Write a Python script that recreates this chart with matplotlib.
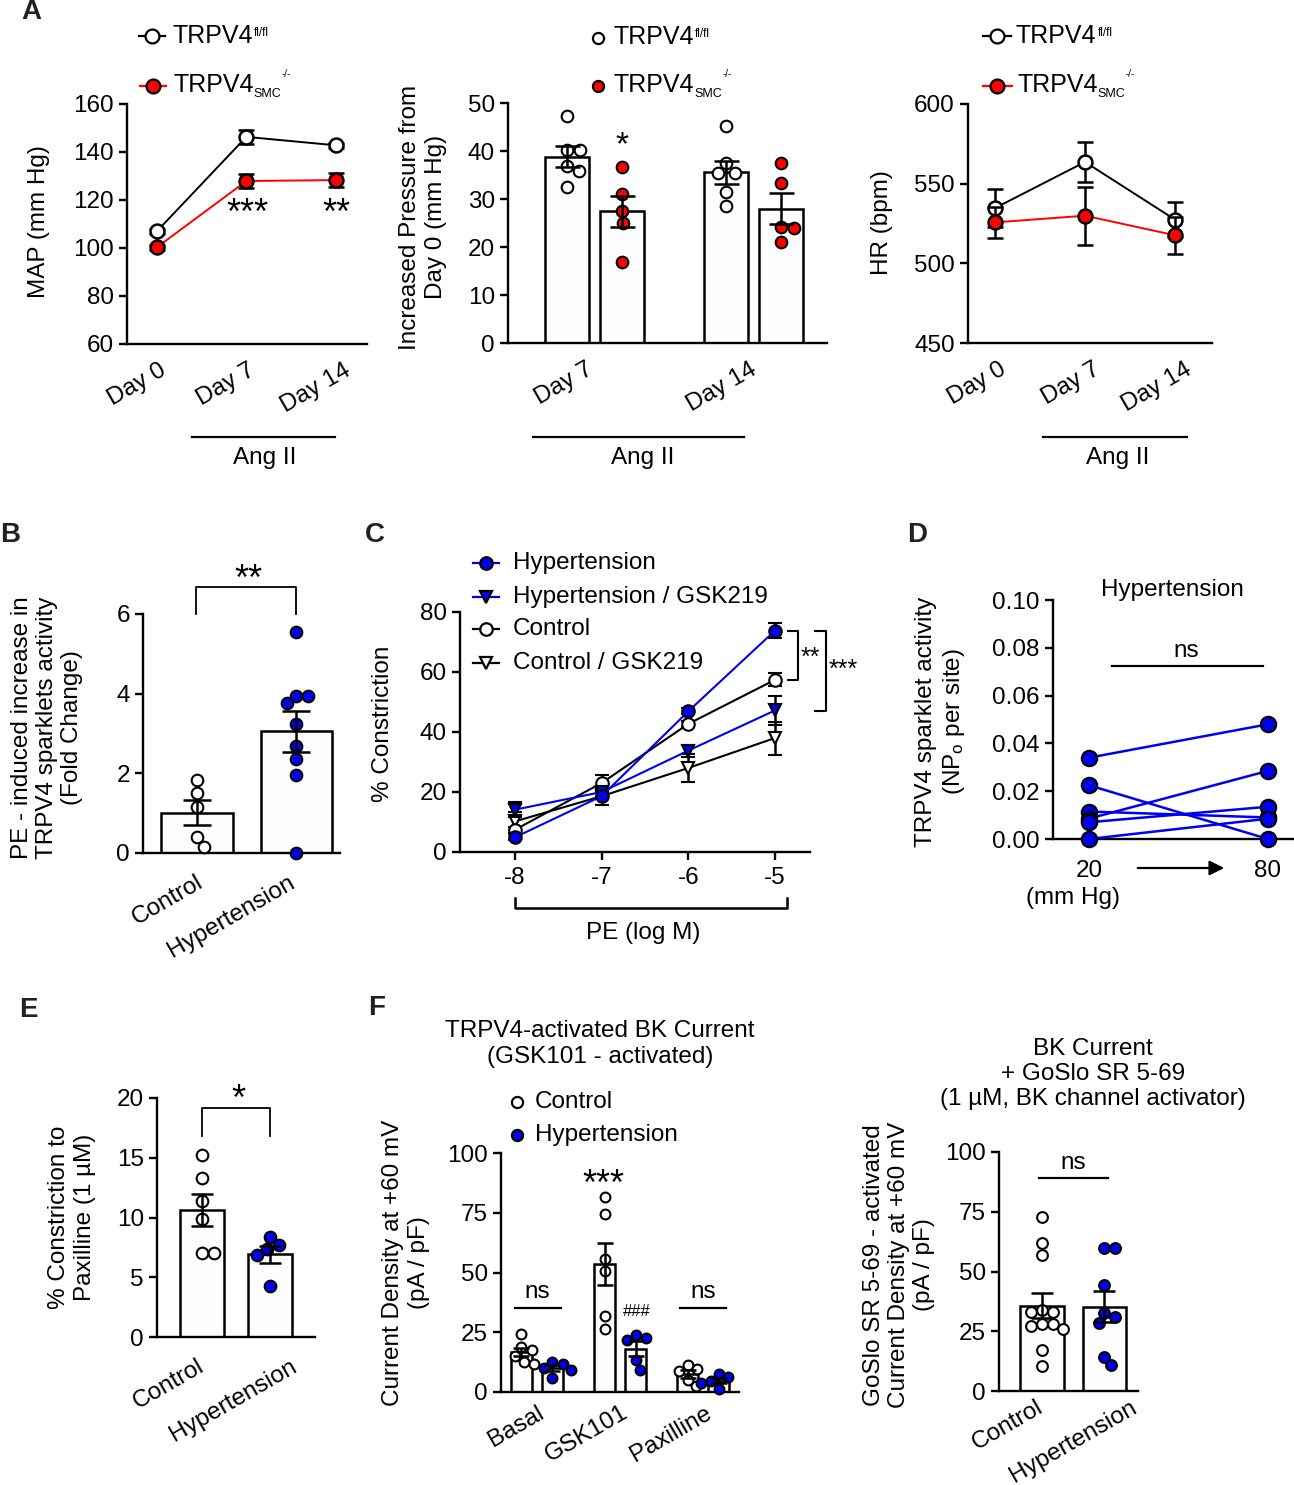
import matplotlib
matplotlib.use("Agg")
from matplotlib import pyplot as plt
from matplotlib.lines import Line2D
import matplotlib.transforms as mtransforms
import numpy as np

plt.rcParams['font.family'] = ['Liberation Sans', 'DejaVu Sans']
plt.rcParams['mathtext.fontset'] = 'custom'
plt.rcParams['mathtext.rm'] = 'Liberation Sans'
plt.rcParams['mathtext.it'] = 'Liberation Sans:italic'
plt.rcParams['axes.linewidth'] = 1.7

W, H = 1294, 1485
BLUE = '#0000f0'
RED = '#ff0000'
FS = 17.5

# ---------------- data ----------------
# A: mean arterial pressure
days = ['Day 0', 'Day 7', 'Day 14']
map_fl = [107.0, 146.3, 142.8]
map_fl_sem = [1.0, 3.0, 1.0]
map_ko = [100.3, 127.9, 128.3]
map_ko_sem = [1.0, 3.0, 3.0]

# A: increased pressure from day 0
ang_days = ['Day 7', 'Day 14']
dp_fl_pts = [[47.2, 40.3, 40.3, 36.9, 35.8, 32.6], [45.3, 37.5, 35.4, 35.4, 31.5, 28.5]]
dp_fl_sem = [2.1, 2.4]
dp_ko_pts = [[36.6, 31.0, 27.6, 24.9, 16.9], [37.6, 33.4, 24.2, 23.9, 21.0]]
dp_ko_sem = [3.3, 3.25]

# A: heart rate
hr_fl = [534.7, 563.6, 527.4]
hr_fl_sem = [12.0, 12.8, 11.0]
hr_ko = [525.7, 529.9, 517.6]
hr_ko_sem = [9.8, 18.3, 11.7]

# B
groups = ['Control', 'Hypertension']
b_ctrl = [1.83, 1.51, 1.16, 0.40, 0.15]
b_ht = [5.56, 3.95, 3.95, 3.77, 3.23, 2.68, 2.35, 1.97, 0.0]
b_sem = [0.31, 0.52]

# C
pe_logm = [-8, -7, -6, -5]
c_ht = [4.9, 18.6, 46.9, 73.8]
c_ht_sem = [1.0, 1.0, 1.0, 2.4]
c_ht_gsk = [14.1, 20.0, 33.8, 47.2]
c_ht_gsk_sem = [2.5, 1.5, 2.0, 4.7]
c_ctrl = [7.4, 23.0, 42.7, 57.4]
c_ctrl_sem = [1.0, 2.8, 1.0, 2.2]
c_ctrl_gsk = [10.2, 18.6, 28.0, 38.0]
c_ctrl_gsk_sem = [3.0, 3.0, 4.6, 5.5]

# D
d_press = ['20', '80']
d_20 = [0.034, 0.0225, 0.0115, 0.0085, 0.007, 0.0]
d_80 = [0.048, 0.0, 0.009, 0.0285, 0.0135, 0.0085]

# E
e_ctrl = [15.2, 13.3, 11.4, 9.9, 7.0, 7.0]
e_ht = [8.4, 7.7, 7.4, 6.9, 4.25]
e_sem = [1.35, 0.7]

# F (left)
f_conds = ['Basal', 'GSK101', 'Paxilline']
f_ctrl = [[24.3, 18.8, 17.7, 15.2, 12.6, 11.9], [81.6, 74.6, 55.6, 50.8, 31.9, 26.4],
          [11.4, 9.8, 8.6, 4.9, 2.4]]
f_ht = [[12.6, 11.9, 10.0, 9.3, 5.9], [24.0, 22.6, 21.9, 13.2, 9.1], [7.7, 6.3, 4.5, 3.8, 1.4]]
f_ctrl_sem = [1.8, 8.8, 1.7]
f_ht_sem = [1.2, 3.0, 1.1]

# F (right)
g_ctrl = [72.8, 61.9, 56.7, 34.0, 33.0, 33.0, 28.0, 28.0, 27.0, 26.0, 17.2, 10.6]
g_ht = [59.8, 59.8, 44.4, 32.5, 31.1, 28.4, 14.4, 10.9]
g_sem = [5.3, 6.5]

fig = plt.figure(figsize=(W / 100, H / 100), dpi=100)
fig.patch.set_facecolor('white')


def add_ax(l, t, r, b):
    ax = fig.add_axes([l / W, 1 - b / H, (r - l) / W, (b - t) / H])
    ax.spines[['top', 'right']].set_visible(False)
    ax.tick_params(labelsize=FS, width=1.7, length=6, direction='out')
    ax.tick_params(axis='x', length=0, pad=11)
    ax.patch.set_alpha(0)
    return ax


def ftext(x, y, s, **kw):
    kw.setdefault('fontsize', FS)
    kw.setdefault('ha', 'center')
    kw.setdefault('va', 'center')
    return fig.text(x / W, 1 - y / H, s, **kw)


def fline(xs, ys, lw=1.6, color='black'):
    fig.add_artist(Line2D([x / W for x in xs], [1 - y / H for y in ys],
                          transform=fig.transFigure, color=color, lw=lw))


def fmarker(x, y, face, marker='o', ms=10):
    fig.add_artist(Line2D([x / W], [1 - y / H], transform=fig.transFigure, ls='none',
                          marker=marker, ms=ms, mfc=face, mec='black', mew=1.6))


def rot_labels(ax, ticks, labels, dxs, pad=11, rot=30):
    # pad has to be set before the label shifts, tick_params rebuilds the transforms
    ax.tick_params(axis='x', pad=pad)
    ax.set_xticks(ticks, labels, rotation=rot, ha='center', va='top')
    for lab, dx in zip(ax.get_xticklabels(), dxs):
        lab.set_transform(lab.get_transform() +
                          mtransforms.ScaledTranslation(dx / 100, 0, fig.dpi_scale_trans))


def swarm_x(ax, xc, vals, d):
    # simple beeswarm in pixel space
    to = ax.transData
    x0 = to.transform((xc, 0))[0]
    placed, xs = [], []
    for v in vals:
        y = to.transform((xc, v))[1]
        cands = [0.0]
        for px, py in placed:
            dy = y - py
            if abs(dy) < d:
                dx = np.sqrt(d * d - dy * dy)
                cands += [px + dx, px - dx]
        cands.sort(key=abs)
        c = cands[0]
        for c in cands:
            if all((c - px) ** 2 + (y - py) ** 2 >= d * d - 1e-6 for px, py in placed):
                break
        placed.append((c, y))
        xs.append(to.inverted().transform((x0 + c, y))[0])
    return xs


def bar_with_points(ax, x, pts, sem, width, face, d=12, s=70, capsize=9):
    m = np.mean(pts)
    ax.bar(x, m, width=width, color='#fdfdff', edgecolor='black', lw=1.8, zorder=1)
    xs = swarm_x(ax, x, pts, d)
    ax.scatter(xs, pts, s=s, facecolor=face, edgecolor='black', lw=1.5, zorder=3, clip_on=False)
    ax.errorbar(x, m, yerr=sem, color='black', elinewidth=1.8, capsize=capsize, capthick=1.8, zorder=4)


def trpv4(x, y, kind):
    t = ftext(x, y, 'TRPV4', ha='left', fontsize=18)
    r = fig.canvas.get_renderer()
    bb = t.get_window_extent(r)
    if kind == 'fl':
        fig.text((bb.x1 + 1) / W, (bb.y1 - 3) / H, 'fl/fl', fontsize=8.5, ha='left', va='top')
    else:
        s = fig.text(bb.x1 / W, (bb.y0 - 3) / H, 'SMC', fontsize=9, ha='left', va='bottom')
        bs = s.get_window_extent(r)
        fig.text(bs.x1 / W, (bb.y1 + 4) / H, '-/-', fontsize=7, ha='left', va='top')


line_kw = dict(lw=1.4, ms=10, mew=1.8, ecolor='black', elinewidth=1.8, capthick=1.8)

# ---------------- A1: MAP ----------------
ax = add_ax(127, 104, 367, 344)
x = np.arange(len(days))
ax.set_xlim(-0.335, 2.35)
ax.set_ylim(60, 160)
ax.errorbar(x, map_fl, yerr=map_fl_sem, color='black', marker='o', mfc='white', mec='black',
            capsize=6, zorder=3, **line_kw)
ax.errorbar(x, map_ko, yerr=map_ko_sem, color=RED, marker='o', mfc=RED, mec='black',
            capsize=6, zorder=4, **line_kw)
ax.set_yticks(range(60, 161, 20))
rot_labels(ax, x, days, [-20, -20, -20])
fline([192, 335], [437, 437])
ftext(265, 458, 'Ang II')
ftext(247, 214, '***', fontsize=26)
ftext(336, 214, '**', fontsize=26)
fline([139, 165], [36, 36])
fmarker(152, 36, 'white')
trpv4(172, 36, 'fl')
fline([140, 166], [86, 86], color=RED)
fmarker(153, 86, RED)
trpv4(173, 85, 'ko')
ftext(39, 222, 'MAP (mm Hg)', rotation=90)

# ---------------- A2: increased pressure ----------------
ax = add_ax(508, 103, 827, 343)
ax.set_xlim(-1.07, 4.73)
ax.set_ylim(0, 50)
pos_fl = [0, 2.9]
pos_ko = [1, 3.9]
for i in range(len(ang_days)):
    bar_with_points(ax, pos_fl[i], dp_fl_pts[i], dp_fl_sem[i], 0.8, 'white', d=13)
    bar_with_points(ax, pos_ko[i], dp_ko_pts[i], dp_ko_sem[i], 0.8, RED, d=13)
ax.set_yticks(range(0, 51, 10))
rot_labels(ax, [0.5, 3.4], ang_days, [-30, -32])
ftext(622, 146, '*', fontsize=24)
fline([533, 744], [437, 437])
ftext(643, 458, 'Ang II')
fmarker(598, 38, 'white', ms=8)
trpv4(613, 37, 'fl')
fmarker(598, 86, RED, ms=8)
trpv4(614, 85, 'ko')
ftext(423, 217, 'Increased Pressure from\nDay 0 (mm Hg)', rotation=90)

# ---------------- A3: heart rate ----------------
ax = add_ax(968, 104, 1212, 343)
ax.set_xlim(-0.3, 2.41)
ax.set_ylim(450, 600)
ax.errorbar(x, hr_fl, yerr=hr_fl_sem, color='black', marker='o', mfc='white', mec='black',
            capsize=6, zorder=3, **line_kw)
ax.errorbar(x, hr_ko, yerr=hr_ko_sem, color=RED, marker='o', mfc=RED, mec='black',
            capsize=6, zorder=4, **line_kw)
ax.set_yticks(range(450, 601, 50))
rot_labels(ax, x, days, [-18, -14, -18])
fline([1043, 1187], [437, 437])
ftext(1118, 458, 'Ang II')
fline([983, 1011], [36, 36])
fmarker(997, 36, 'white')
trpv4(1016, 36, 'fl')
fline([983, 1012], [86, 86], color=RED)
fmarker(997, 86, RED)
trpv4(1017, 85, 'ko')
ftext(882, 223, 'HR (bpm)', rotation=90)

# ---------------- B ----------------
ax = add_ax(143, 614, 340, 853)
ax.set_xlim(-0.545, 1.44)
ax.set_ylim(0, 6)
bar_with_points(ax, 0, b_ctrl, b_sem[0], 0.72, 'white', d=12, capsize=10)
bar_with_points(ax, 1, b_ht, b_sem[1], 0.72, BLUE, d=12, capsize=10)
ax.set_yticks(range(0, 7, 2))
rot_labels(ax, [0, 1], groups, [-30, -65], pad=13)
fline([196, 196, 296, 296], [614, 587, 587, 614], lw=1.3)
ftext(248, 580, '**', fontsize=26)
ftext(47, 728, 'PE - induced increase in\nTRPV4 sparklets activity\n(Fold Change)', rotation=90)

# ---------------- C ----------------
ax = add_ax(460, 612, 810, 852)
ax.set_xlim(-8.634, -4.596)
ax.set_ylim(0, 80)
ekw = dict(lw=1.5, ms=9, mew=1.5, ecolor='black', elinewidth=1.8, capthick=1.8, capsize=5, clip_on=False)
ax.errorbar(pe_logm, c_ctrl_gsk, yerr=c_ctrl_gsk_sem, color='black', marker='v', mfc='white',
            mec='black', zorder=3, **ekw)
ax.errorbar(pe_logm, c_ctrl, yerr=c_ctrl_sem, color='black', marker='o', mfc='white',
            mec='black', zorder=3, **ekw)
ax.errorbar(pe_logm, c_ht_gsk, yerr=c_ht_gsk_sem, color=BLUE, marker='v', mfc=BLUE,
            mec='black', zorder=4, **ekw)
ax.errorbar(pe_logm, c_ht, yerr=c_ht_sem, color=BLUE, marker='o', mfc=BLUE,
            mec='black', zorder=4, **ekw)
ax.set_yticks(range(0, 81, 20))
ax.set_xticks(pe_logm, [str(v) for v in pe_logm])
ax.tick_params(axis='x', length=6, pad=5)
leg_rows = [('Hypertension', BLUE, BLUE, 'o', 563), ('Hypertension / GSK219', BLUE, BLUE, 'v', 597),
            ('Control', 'black', 'white', 'o', 629), ('Control / GSK219', 'black', 'white', 'v', 663)]
for lab, col, face, mk, yy in leg_rows:
    fline([473, 499], [yy, yy], color=col)
    fmarker(486, yy, face, marker=mk, ms=9)
    ftext(513, yy, lab, ha='left')
fline([788, 798, 798, 788], [631, 631, 680, 680], lw=1.5)
ftext(810, 658, '**', fontsize=18)
fline([815, 826, 826, 815], [631, 631, 711, 711], lw=1.5)
ftext(843, 670, '***', fontsize=18)
fline([515, 515, 787, 787], [898, 908, 908, 898], lw=1.8)
ftext(643, 933, 'PE (log M)')
ftext(383, 724, '% Constriction', rotation=90)

# ---------------- D ----------------
ax = add_ax(1053, 600, 1293, 839)
ax.set_xlim(-0.2, 1.14)
ax.set_ylim(0, 0.1)
for a, b in zip(d_20, d_80):
    ax.plot([0, 1], [a, b], color=BLUE, lw=1.8, marker='o', ms=11, mfc=BLUE, mec='black',
            mew=1.6, clip_on=False, zorder=3)
ax.set_yticks(np.arange(0, 0.101, 0.02), ['%.2f' % v for v in np.arange(0, 0.101, 0.02)])
ax.set_xticks([0, 1], d_press)
ax.tick_params(axis='x', pad=15)
ax.annotate('', xy=(1227, H - 868), xytext=(1135, H - 868), xycoords='figure pixels',
            arrowprops=dict(arrowstyle='-|>', lw=1.6, color='black', mutation_scale=22))
ftext(1073, 898, '(mm Hg)')
ftext(1172, 590, 'Hypertension')
fline([1112, 1263], [666, 666])
ftext(1186, 651, 'ns')
ftext(941, 722, 'TRPV4 sparklet activity\n(NP$_\\mathrm{o}$ per site)', rotation=90)

# ---------------- E ----------------
ax = add_ax(157, 1098, 315, 1337)
ax.set_xlim(-0.66, 1.66)
ax.set_ylim(0, 20)
bar_with_points(ax, 0, e_ctrl, e_sem[0], 0.65, 'white', d=12, capsize=8)
bar_with_points(ax, 1, e_ht, e_sem[1], 0.65, BLUE, d=12, capsize=8)
ax.set_yticks(range(0, 21, 5))
rot_labels(ax, [0, 1], groups, [-33, -37], pad=13)
fline([202, 202, 270, 270], [1136, 1108, 1108, 1136], lw=1.3)
ftext(238, 1100, '*', fontsize=26)
ftext(72, 1217, '% Constriction to\nPaxilline (1 µM)', rotation=90)

# ---------------- F left ----------------
ax = add_ax(501, 1153, 739, 1392)
ax.set_xlim(-0.66, 7.02)
ax.set_ylim(0, 100)
gx = [0, 2.69, 5.36]
for i in range(len(f_conds)):
    bar_with_points(ax, gx[i], f_ctrl[i], f_ctrl_sem[i], 0.68, 'white', d=10.5, s=50, capsize=6)
    bar_with_points(ax, gx[i] + 1, f_ht[i], f_ht_sem[i], 0.68, BLUE, d=10.5, s=50, capsize=6)
ax.set_yticks(range(0, 101, 25))
rot_labels(ax, [g + 0.5 for g in gx], f_conds, [-21, -34, -32], pad=7)
ftext(537, 1292, 'ns')
fline([515, 561], [1308, 1308])
ftext(603, 1185, '***', fontsize=26)
ftext(637, 1311, '###', fontsize=12)
ftext(703, 1292, 'ns')
fline([680, 726], [1308, 1308])
ftext(600, 1044, 'TRPV4-activated BK Current\n(GSK101 - activated)')
fmarker(517, 1102, 'white', ms=8)
ftext(535, 1102, 'Control', ha='left')
fmarker(517, 1135, BLUE, ms=8)
ftext(535, 1135, 'Hypertension', ha='left')
ftext(406, 1263, 'Current Density at +60 mV\n(pA / pF)', rotation=90)

# ---------------- F right ----------------
ax = add_ax(999, 1152, 1138, 1391)
ax.set_xlim(-0.69, 1.54)
ax.set_ylim(0, 100)
bar_with_points(ax, 0, g_ctrl, g_sem[0], 0.7, 'white', d=11, s=60, capsize=8)
bar_with_points(ax, 1, g_ht, g_sem[1], 0.7, BLUE, d=11, s=60, capsize=8)
ax.set_yticks(range(0, 101, 25))
rot_labels(ax, [0, 1], groups, [-34, -31], pad=4)
ftext(1073, 1163, 'ns')
fline([1039, 1108], [1178, 1178])
ftext(1093, 1074, 'BK Current\n+ GoSlo SR 5-69\n(1 µM, BK channel activator)')
ftext(899, 1265, 'GoSlo SR 5-69 - activated\nCurrent Density at +60 mV\n(pA / pF)', rotation=90)

# panel letters
for lab, px, py in [('A', 31, 12), ('B', 10, 535), ('C', 375, 535), ('D', 917, 535),
                    ('E', 28, 1010), ('F', 377, 1008)]:
    ftext(px, py, lab, fontsize=20, fontweight='bold', color='#222222')

fig.savefig('out.png', dpi=100)
